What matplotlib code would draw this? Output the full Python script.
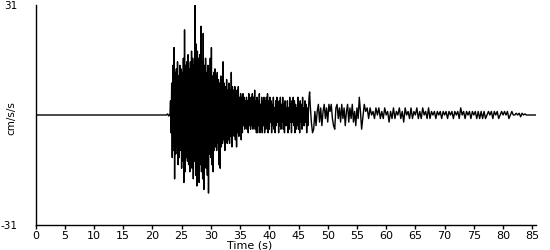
import matplotlib
matplotlib.use("Agg")
import matplotlib.pyplot as plt
import numpy as np

# quiet part before the arrival
pre_t = [0.0, 22.4, 22.6, 22.8, 22.9]
pre_a = [0.0, 0.0, 0.3, -0.3, 0.0]

# strong motion, peaks every 0.1 s from 23.0 s
strong_t0, strong_dt = 23.0, 0.1
strong_a = [
    0, 4, -5, 9, -12, 14, -10, 19, -18, 12,
    -11, 13, -9, 15, -14, 11, -12, 14, -10, 13,
    -15, 12, -13, 16, -19, 24, -16, 14, -12, 15,
    -13, 17, -14, 13, -16, 15, -12, 18, -15, 16,
    -18, 14, -13, 31, -17, 20, -20, 18, -15, 16,
    -19, 17, -14, 25, -16, 15, -18, 23, -21, 14,
    -13, 16, -15, 12, -17, 14, -22, 13, -11, 16,
    -12, 19, -14, 11, -16, 12, -10, 13, -9, 11,
    -10, 12, -8, 10, -14, 9, -15, 11, -9, 10,
    -8, 15, -7, 9, -10, 8, -6, 10, -8, 7,
    -7, 9, -8, 7, -6, 12, -9, 8, -5, 7,
    -6, 8, -7, 6, -9, 7, -5, 8, -6, 5,
    -4, 6, -7, 5, -5, 6, -3, 5, -4, 4,
    -3, 5, -4, 4, -5, 6, -3, 4, -4, 5,
    -3, 6, -4, 5, -3, 7, -4, 4, -5, 5,
    -5, 4, -3, 6, -5, 3, -4, 5, -5, 4,
    -3, 5, -5, 4, -4, 5, -3, 6, -5, 4,
    -4, 5, -2, 4, -5, 3, -3, 5, -4, 2,
    -5, 4, -3, 5, -2, 3, -5, 4, -3, 5,
    -4, 3, -2, 5, -4, 3, -5, 4, -3, 2,
    -3, 4, -5, 2, -4, 5, -2, 3, -5, 4,
    -2, 5, -3, 4, -5, 3, -4, 2, -3, 5,
    -4, 3, -5, 4, -2, 3, -4, 5, -3, 2,
    -3, 4, -2, 3, -5, 2, -3, 1, 5, 6.5,
]

# coda, peaks every 0.2 s from 47 s
coda_t0, coda_dt = 47.0, 0.2
coda_a = [
    3, -2, -5, -4, 1,
    -3, 1, 3, -2, 2, -3, 1, 3, -1, 2,
    -2, 3, 1, 3, -1, -3, -4, 2, 3, -1,
    2, -2, 3, -1, 2, -3, 1, 3, -2, 2,
    -1, 3, -2, 1, -3, 2, -1, 5, 1, -4,
]

# tail, peaks every 0.25 s from 56 s
tail_t0, tail_dt = 56.0, 0.25
tail_a = [
    -1, 3, 1, 2, -1, 2, 0, 1,
    -1, 2, 0, 2, -1, 1, -1, 2,
    0, 1, -2, 1, -1, 2, -1, 1,
    0, 2, -1, 1, -2, 2, 0, 1,
    -1, 2, -1, 1, 0, 2, -1, 1,
    -1, 2, 0, 1, -1, 2, -1, 1,
    0, 1, -1, 1, 0, 1, -1, 1,
    0, 1, -1, 1, 0, 1, -1, 1,
    0, 1, -1, 2, 0, 1, -1, 1,
    0, 1, -1, 1, 0, 1, -1, 1,
    -1, 1, -1, 1, -1, 0, 1, 0,
    1, -1, 1, 0, 1, -1, 0, 1,
    0, 1, 0, 1, -1, 0, 1, 0,
    0, 0.5, 0, 0.5, -0.5, 0.5, 0, 0.3,
    0, 0, 0, 0, 0, 0, 0, 0, 0,
]

x_ticks = list(range(0, 90, 5))
peak = 31

t = np.concatenate([
    pre_t,
    strong_t0 + strong_dt * np.arange(len(strong_a)),
    coda_t0 + coda_dt * np.arange(len(coda_a)),
    tail_t0 + tail_dt * np.arange(len(tail_a)),
])
a = np.concatenate([pre_a, strong_a, coda_a, tail_a])

fig = plt.figure(figsize=(5.5, 2.5), dpi=100)
ax = fig.add_axes([35.5 / 550, 25 / 250, 500 / 550, 220 / 250])
ax.plot(t, a, color="black", linewidth=1.0)

ax.set_xlim(0, 85.55)
ax.set_ylim(-peak, peak)
for s in ["top", "right"]:
    ax.spines[s].set_visible(False)
for s in ["left", "bottom"]:
    ax.spines[s].set_linewidth(1.0)
    ax.spines[s].set_color("black")

ax.set_xticks(x_ticks)
ax.tick_params(axis="x", direction="out", length=3, width=1, pad=1.5, labelsize=8)
ax.set_yticks([-peak, peak])
ax.set_yticklabels([str(-peak), str(peak)])
ax.tick_params(axis="y", length=0, pad=13, labelsize=7.5)

ax.set_xlabel("Time (s)", fontsize=8)
ax.xaxis.set_label_coords(0.429, -0.07)
fig.text(11.5 / 550, 1 - 118 / 250, "cm/s/s", rotation=90, fontsize=7.5,
         ha="center", va="center")

fig.savefig("out.png", dpi=100)
